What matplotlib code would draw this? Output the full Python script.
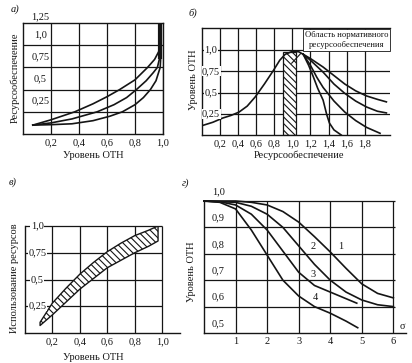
import matplotlib
matplotlib.use('Agg')
import matplotlib.pyplot as plt
from matplotlib.patches import Rectangle

plt.rcParams['font.family'] = ['Liberation Serif', 'DejaVu Serif']
plt.rcParams['font.size'] = 7.5
plt.rcParams['hatch.linewidth'] = 0.8

INK = '#151515'
W, H = 412, 363

# ---- а) ----
a_xticks = [0.2, 0.4, 0.6, 0.8, 1.0]
a_yticks = [0.25, 0.5, 0.75, 1.0]
a_x1 = [0.07, 0.2, 0.37, 0.5, 0.6, 0.69, 0.8, 0.89, 0.94, 0.97, 0.975]
a_y1 = [0.10, 0.16, 0.25, 0.34, 0.42, 0.50, 0.61, 0.75, 0.84, 0.93, 1.25]
a_x2 = [0.07, 0.2, 0.35, 0.53, 0.65, 0.74, 0.81, 0.88, 0.93, 0.96, 0.975, 0.98]
a_y2 = [0.10, 0.125, 0.17, 0.25, 0.33, 0.41, 0.50, 0.60, 0.69, 0.75, 0.85, 1.25]
a_x3 = [0.07, 0.2, 0.35, 0.5, 0.62, 0.71, 0.8, 0.86, 0.91, 0.95, 0.98, 0.985, 0.985]
a_y3 = [0.10, 0.105, 0.115, 0.15, 0.20, 0.25, 0.33, 0.41, 0.50, 0.60, 0.75, 0.90, 1.25]

# ---- б) ----
b_xticks = [0.2, 0.4, 0.6, 0.8, 1.0, 1.2, 1.4, 1.6, 1.8]
b_yticks = [0.25, 0.5, 0.75, 1.0]
b_rise_x = [0, 0.12, 0.23, 0.32, 0.41, 0.5, 0.59, 0.69, 0.79, 0.86, 0.92, 1.0, 1.07, 1.12]
b_rise_y = [0.11, 0.15, 0.20, 0.23, 0.27, 0.34, 0.45, 0.60, 0.76, 0.88, 0.95, 0.985, 0.98, 0.95]
b_fall = [
    ([1.12, 1.2, 1.34, 1.46, 1.58, 1.7, 1.82, 1.94, 2.04],
     [0.95, 0.90, 0.80, 0.70, 0.60, 0.52, 0.46, 0.42, 0.39]),
    ([1.12, 1.2, 1.34, 1.46, 1.58, 1.7, 1.82, 1.94, 2.04],
     [0.95, 0.88, 0.74, 0.60, 0.49, 0.40, 0.33, 0.28, 0.26]),
    ([1.12, 1.2, 1.27, 1.34, 1.46, 1.58, 1.7, 1.82, 1.97],
     [0.95, 0.82, 0.68, 0.56, 0.40, 0.27, 0.17, 0.09, 0.02]),
    ([1.12, 1.18, 1.23, 1.28, 1.34, 1.38, 1.41, 1.46, 1.54],
     [0.95, 0.82, 0.69, 0.55, 0.41, 0.24, 0.14, 0.06, 0.0]),
]
b_norm_lo, b_norm_hi, b_norm_top = 0.9, 1.04, 0.98

# ---- в) ----
c_xticks = [0.2, 0.4, 0.6, 0.8, 1.0]
c_yticks = [0.25, 0.5, 0.75, 1.0]
c_x = [0.11, 0.2, 0.3, 0.4, 0.5, 0.6, 0.7, 0.8, 0.9, 0.97]
c_upper = [0.10, 0.28, 0.42, 0.55, 0.66, 0.76, 0.84, 0.91, 0.96, 1.0]
c_lower = [0.07, 0.17, 0.29, 0.41, 0.51, 0.61, 0.68, 0.75, 0.81, 0.86]

# ---- г) ----
d_xticks = [1, 2, 3, 4, 5, 6]
d_yticks = [0.5, 0.6, 0.7, 0.8, 0.9, 1.0]
d_curves = {
    '1': ([0, 1, 1.5, 2, 2.5, 3, 3.5, 4, 4.5, 5, 5.5, 6],
          [1.0, 1.0, 0.995, 0.985, 0.96, 0.92, 0.865, 0.807, 0.745, 0.686, 0.65, 0.633]),
    '2': ([0, 1, 1.5, 2, 2.5, 3, 3.5, 4, 4.5, 5, 5.5, 6],
          [1.0, 0.995, 0.98, 0.95, 0.90, 0.83, 0.76, 0.70, 0.655, 0.625, 0.607, 0.60]),
    '3': ([0, 0.5, 1, 1.5, 2, 2.5, 3, 3.5, 4, 4.5, 4.84],
          [1.0, 0.997, 0.985, 0.95, 0.89, 0.81, 0.73, 0.68, 0.655, 0.63, 0.613]),
    '4': ([0, 0.5, 1, 1.5, 2, 2.5, 3, 3.5, 4, 4.5, 4.87],
          [1.0, 0.995, 0.97, 0.89, 0.795, 0.70, 0.64, 0.60, 0.575, 0.545, 0.52]),
}
d_label_pos = {'1': (4.34, 0.826), '2': (3.45, 0.826), '3': (3.45, 0.723), '4': (3.54, 0.633)}


def fmt(v):
    s = ('%g' % v).replace('.', ',')
    return s + ',0' if ',' not in s else s


fig = plt.figure(figsize=(W / 100, H / 100), dpi=100)


def px_axes(l, t, r, b):
    return fig.add_axes([l / W, 1 - b / H, (r - l) / W, (b - t) / H])


def base(ax):
    for s in ax.spines.values():
        s.set_color(INK)
        s.set_linewidth(1.0)
    ax.tick_params(length=0, labelleft=False, pad=3, labelcolor=INK)


def ftext(x, y, s, **kw):
    fig.text(x / W, 1 - y / H, s, color=INK, ha='center', va='center', **kw)


# а)
ax = px_axes(23, 23, 163, 134)
base(ax)
ax.set_xlim(0, 1.0)
ax.set_ylim(0, 1.25)
ax.set_xticks(a_xticks, [fmt(v) for v in a_xticks])
ax.set_yticks(a_yticks)
ax.grid(True, color=INK, lw=0.9)
for v in a_yticks:
    ax.text(0.125, v + 0.12, fmt(v), ha='center', va='center', color=INK)
ax.text(0.125, 1.27, '1,25', ha='center', va='bottom', color=INK)
for xs, ys in [(a_x1, a_y1), (a_x2, a_y2), (a_x3, a_y3)]:
    ax.plot(xs, ys, color=INK, lw=1.2)
ax.plot([0.978, 0.978], [0.85, 1.25], color=INK, lw=3, solid_capstyle='butt')

# б)
ax = px_axes(202, 28, 390, 135)
base(ax)
ax.spines['right'].set_visible(False)
ax.set_xlim(0, 2.08)
ax.set_ylim(0, 1.26)
ax.set_xticks(b_xticks, [fmt(v) for v in b_xticks])
ax.set_yticks(b_yticks)
ax.grid(True, color=INK, lw=0.9)
for v in b_yticks:
    ax.text(0.1, v, fmt(v), ha='center', va='center', color=INK,
            bbox=dict(fc='white', ec='none', pad=0.3), zorder=4)
ax.add_patch(Rectangle((b_norm_lo, 0), b_norm_hi - b_norm_lo, b_norm_top,
                       fc='white', ec=INK, lw=0.9, hatch='\\\\\\\\\\', zorder=2))
ax.plot(b_rise_x, b_rise_y, color=INK, lw=1.2, zorder=3)
for xs, ys in b_fall:
    ax.plot(xs, ys, color=INK, lw=1.2, zorder=3)
ax.annotate('Область нормативного\nресурсообеспечения', xy=(0.97, 0.82),
            xytext=(1.6, 1.12), ha='center', va='center', fontsize=6.2, color=INK,
            linespacing=1.4,
            bbox=dict(fc='white', ec=INK, lw=0.6, pad=1.5),
            arrowprops=dict(arrowstyle='-', color=INK, lw=0.8,
                            relpos=(0.0, 0.0)), zorder=5)

# в)
ax = px_axes(25, 226, 180, 333)
base(ax)
ax.spines['right'].set_visible(False)
ax.spines['top'].set_visible(False)
ax.set_xlim(0, 1.13)
ax.set_ylim(0, 1.0)
ax.set_xticks(c_xticks, [fmt(v) for v in c_xticks])
ax.set_yticks([])
ax.hlines(c_yticks, 0, 1.0, color=INK, lw=0.9, clip_on=False)
ax.vlines(c_xticks, 0, 1.0, color=INK, lw=0.9, clip_on=False)
for v in c_yticks:
    ax.text(0.09, v, fmt(v), ha='center', va='center', color=INK,
            bbox=dict(fc='white', ec='none', pad=0.3), zorder=4)
ax.fill_between(c_x, c_lower, c_upper, facecolor='white', edgecolor=INK,
                lw=1.0, hatch='\\\\\\\\\\', zorder=3)

# г)
ax = px_axes(204, 201, 406, 333)
base(ax)
ax.spines['right'].set_visible(False)
ax.spines['top'].set_visible(False)
ax.set_xlim(0, 6.4)
ax.set_ylim(0.5, 1.0)
ax.set_xticks(d_xticks, [str(v) for v in d_xticks])
ax.set_yticks([])
ax.hlines(d_yticks[1:], 0, 6.05, color=INK, lw=0.9, clip_on=False)
ax.vlines(d_xticks, 0.5, 1.0, color=INK, lw=0.9)
for v in d_yticks:
    ax.text(0.45, v + 0.036, fmt(v), ha='center', va='center', color=INK, clip_on=False)
for name, (xs, ys) in d_curves.items():
    ax.plot(xs, ys, color=INK, lw=1.2, clip_on=False)
    lx, ly = d_label_pos[name]
    ax.text(lx, ly, name, ha='center', va='center', color=INK,
            bbox=dict(fc='white', ec='none', pad=0.2))
ax.text(6.3, 0.523, 'σ', ha='center', va='center', color=INK)

# panel letters and axis titles
ftext(15, 9, 'а)', style='italic')
ftext(193, 13, 'б)', style='italic')
ftext(13, 182, 'в)', style='italic')
ftext(186, 183, 'г)', style='italic')

ftext(15, 78, 'Ресурсообеспечение', rotation=90)
ftext(93, 155, 'Уровень ОТН')
ftext(193, 80, 'Уровень ОТН', rotation=90)
ftext(299, 155, 'Ресурсообеспечение')
ftext(15, 278, 'Использование ресурсов', rotation=90)
ftext(93, 357, 'Уровень ОТН')
ftext(192, 272, 'Уровень ОТН', rotation=90)

fig.savefig('out.png', dpi=100, facecolor='white')
